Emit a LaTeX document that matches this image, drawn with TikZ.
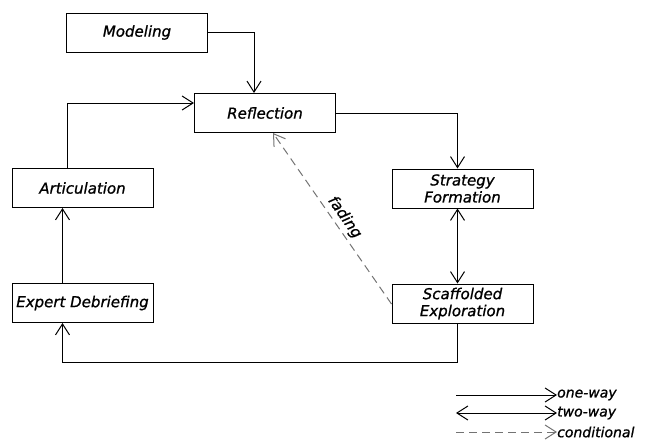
\documentclass[tikz,border=0pt]{standalone}
\usepackage{fontspec}
\setmainfont{DejaVu Sans}
\usetikzlibrary{arrows.meta}

\begin{document}
\begin{tikzpicture}
      [x = 1pt, y = -1pt,
        stage/.style={draw, line width = 1pt, minimum width = 141pt, minimum height = 39pt,
          inner sep = 0pt, align = center, font = \fontsize{15}{17}\selectfont\itshape\addfontfeature{FakeBold=1}},
        flow/.style={line width = 1pt, -{Straight Barb[length=11pt,width=14pt]}},
        both/.style={line width = 1pt, {Straight Barb[length=11pt,width=14pt]}-{Straight Barb[length=11pt,width=14pt]}},
        cond/.style={flow, draw = gray!90!black, dash pattern = on 8pt off 5pt},
        key/.style={anchor = west, inner sep = 0pt, font = \fontsize{14}{16}\selectfont\itshape\addfontfeature{FakeBold=1}}]
      \useasboundingbox (0,0) rectangle (645,440);
      \node[stage] (modeling) at (137, 32.5) {Modeling};
      \node[stage] (reflection) at (265, 113) {Reflection};
      \node[stage] (strategy) at (462.5, 188.5) {Strategy\\Formation};
      \node[stage] (scaffolded) at (462.5, 303.5) {Scaffolded\\Exploration};
      \node[stage] (articulation) at (82.5, 188) {Articulation};
      \node[stage] (debriefing) at (82.5, 303) {Expert Debriefing};
      \draw[flow] (modeling.east) -| ([xshift=-11pt]reflection.north);
      \draw[flow] (reflection.east) -| ([xshift=-5pt]strategy.north);
      \draw[both] ([xshift=-5pt]strategy.south) -- ([xshift=-5pt]scaffolded.north);
      \draw[flow] ([xshift=-5pt]scaffolded.south) -- ++(0,39) -| ([xshift=-20pt]debriefing.south);
      \draw[flow] ([xshift=-20pt]debriefing.north) -- ([xshift=-20pt]articulation.south);
      \draw[flow] ([xshift=-15pt]articulation.north) |- ([yshift=10pt]reflection.west);
      \draw[cond] ([yshift=-0.5pt]scaffolded.west) -- node[pos=.47, rotate=-55, above, inner sep=3pt,
        font=\fontsize{15}{17}\selectfont\itshape\addfontfeature{FakeBold=1}] {fading} ([xshift=8pt]reflection.south);
      \node[key] (oneway) at (557, 395) {one-way};
      \node[key] (twoway) at (557, 413) {two-way};
      \node[key] (conditional) at (557, 432) {conditional};
      \coordinate (k1) at (456, 395);
      \coordinate (k2) at (456, 413);
      \coordinate (k3) at (456, 432);
      \draw[flow] (k1) -- (oneway.west);
      \draw[both] (k2) -- (twoway.west);
      \draw[cond] (k3) -- (conditional.west);
    \end{tikzpicture}
\end{document}
